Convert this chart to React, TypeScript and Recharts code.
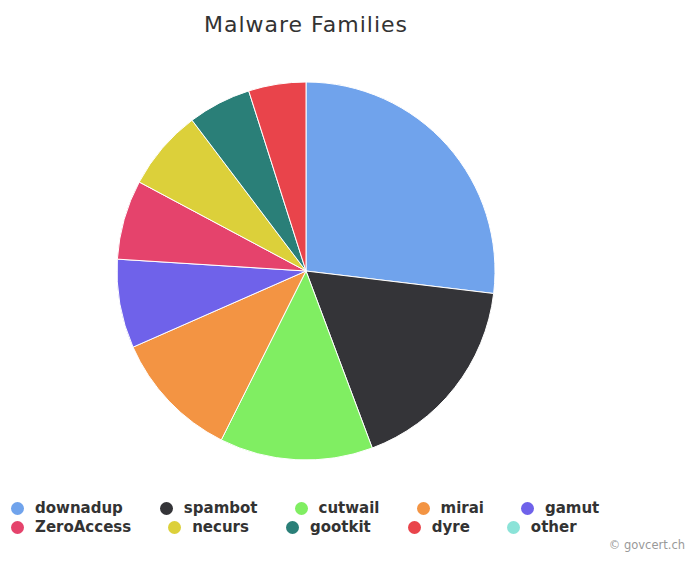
import React from 'react';
import { PieChart, Pie, Cell } from 'recharts';

// malware family shares (percent)
const families = ['downadup', 'spambot', 'cutwail', 'mirai', 'gamut', 'ZeroAccess', 'necurs', 'gootkit', 'dyre', 'other'];
const shares = [26.9, 17.4, 13.1, 11.0, 7.6, 6.8, 6.9, 5.4, 4.9, 0];
const colors = ['#70a3ec', '#343438', '#80ee62', '#f39443', '#6f62ea', '#e5436c', '#dcd03a', '#2a7f78', '#e9444b', '#8be3d8'];

const legendRows = [families.slice(0, 5), families.slice(5)];

const data = families.map((name, i) => ({ name, value: shares[i] }));

const App = () => {
  return (
    <div style={{ position: 'absolute', left: 0, top: 0, width: 686, height: 563, background: '#fff', fontFamily: '"DejaVu Sans", sans-serif' }}>
      <div
        style={{
          position: 'absolute',
          left: 0,
          width: 612,
          top: 12,
          textAlign: 'center',
          fontSize: 22,
          lineHeight: '26px',
          letterSpacing: 1,
          color: '#333',
        }}
      >
        Malware Families
      </div>

      <PieChart
        width={686}
        height={563}
        margin={{ top: 0, right: 0, bottom: 0, left: 0 }}
        style={{ position: 'absolute', left: 0, top: 0 }}
      >
        <Pie
          data={data}
          dataKey="value"
          nameKey="name"
          cx={306}
          cy={271}
          outerRadius={189}
          startAngle={90}
          endAngle={-270}
          stroke="#fff"
          strokeWidth={1}
          isAnimationActive={false}
        >
          {data.map((d, i) => (
            <Cell key={d.name} fill={colors[i]} />
          ))}
        </Pie>
      </PieChart>

      {/* legend, two left-aligned rows like highcharts */}
      <div style={{ position: 'absolute', left: 11, top: 499, width: 600 }}>
        {legendRows.map((row, r) => (
          <div key={r} style={{ display: 'flex', alignItems: 'center', height: 19 }}>
            {row.map((name) => (
              <div key={name} style={{ display: 'flex', alignItems: 'center', marginRight: 37 }}>
                <span
                  style={{
                    width: 13,
                    height: 13,
                    borderRadius: 7,
                    background: colors[families.indexOf(name)],
                    marginRight: 11,
                  }}
                />
                <span style={{ fontSize: 15, fontWeight: 'bold', lineHeight: '19px', color: '#333' }}>{name}</span>
              </div>
            ))}
          </div>
        ))}
      </div>

      <div style={{ position: 'absolute', right: 1, top: 538, fontSize: 11.5, lineHeight: '14px', color: '#999' }}>
        © govcert.ch
      </div>
    </div>
  );
};

export default App;
